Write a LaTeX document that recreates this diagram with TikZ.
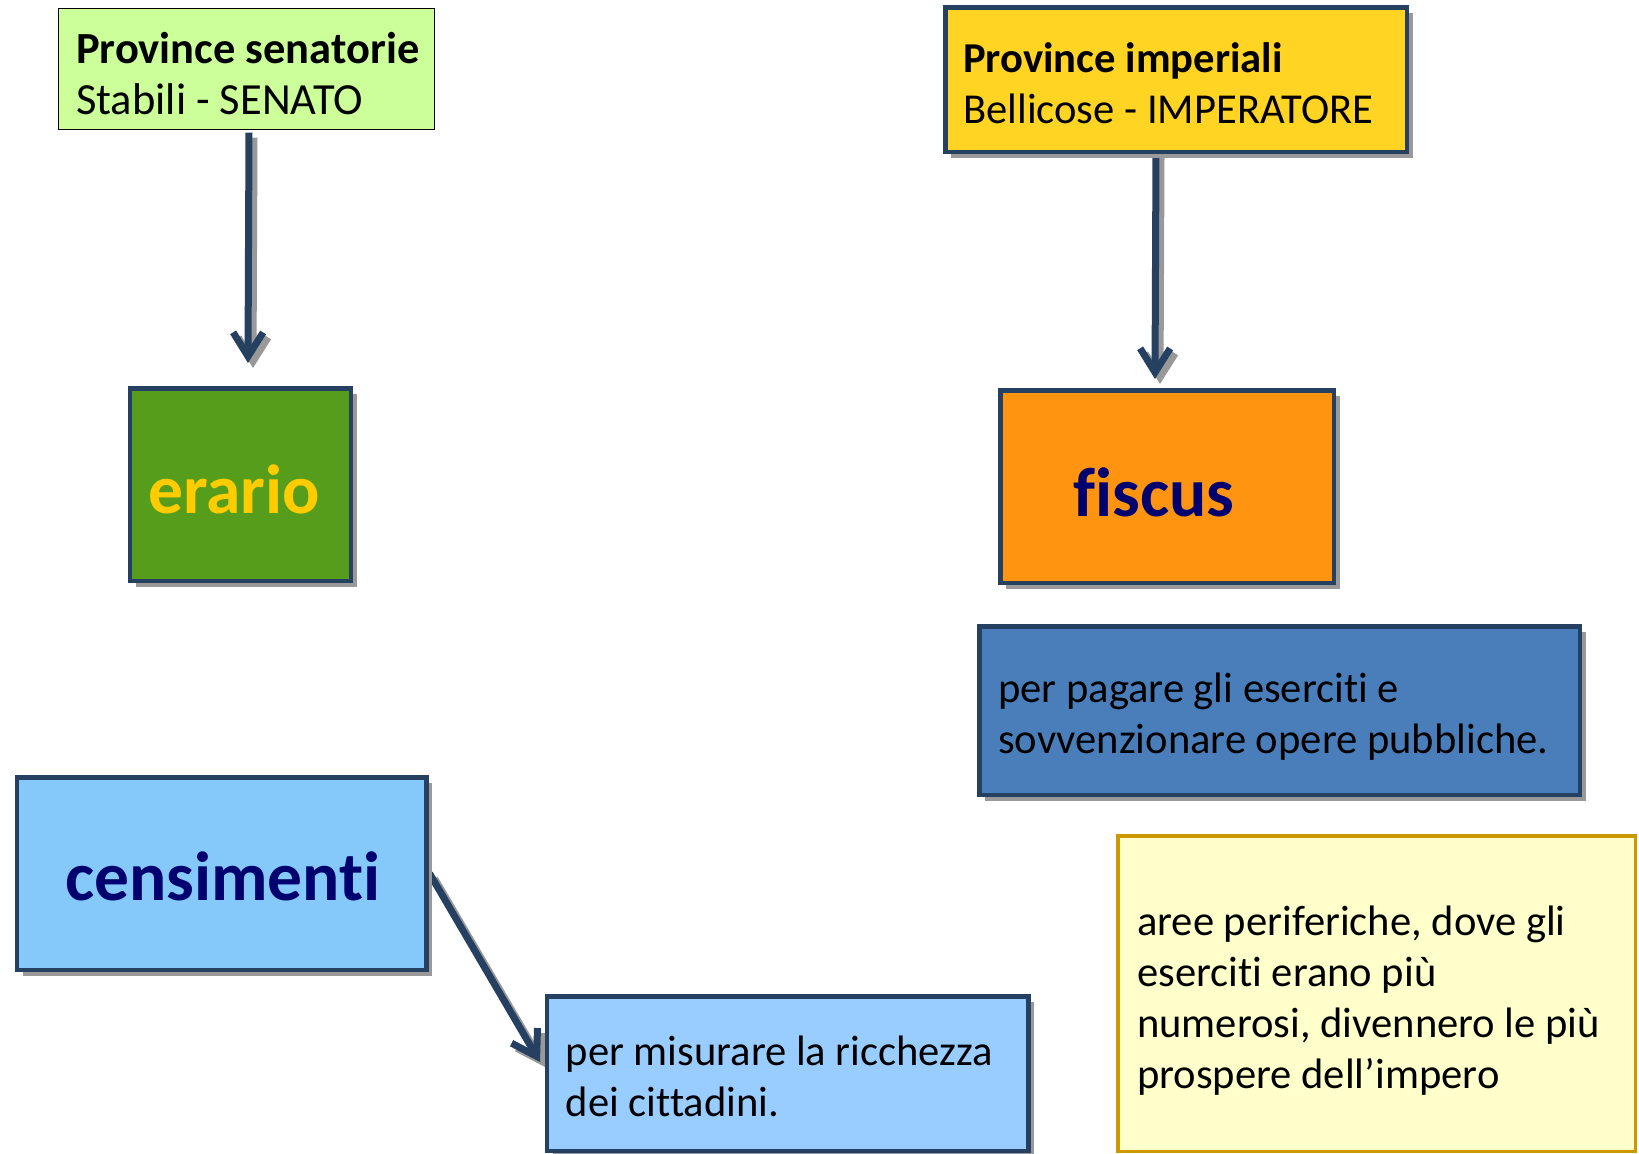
\documentclass[tikz,border=0pt]{standalone}
\usepackage{fontspec}
\setmainfont{Carlito}[Ligatures={NoCommon,NoContextual}]
\usetikzlibrary{arrows.meta,shadows}
\definecolor{bordc}{RGB}{38,64,98}
\definecolor{lgreen}{RGB}{204,255,153}
\definecolor{goldf}{RGB}{255,212,35}
\definecolor{ergreen}{RGB}{87,157,28}
\definecolor{ertext}{RGB}{255,204,0}
\definecolor{orangef}{RGB}{255,148,17}
\definecolor{navyt}{RGB}{0,0,110}
\definecolor{ppblue}{RGB}{74,126,187}
\definecolor{cefill}{RGB}{133,201,250}
\definecolor{pmfill}{RGB}{153,204,255}
\definecolor{arfill}{RGB}{255,255,204}
\definecolor{arbord}{RGB}{204,153,0}
\pgfdeclarelayer{bg}
\pgfsetlayers{bg,main}
\begin{document}
\begin{tikzpicture}[x=1pt,y=-1pt,
  box/.style={rectangle, draw=bordc, line width=4.5pt, inner sep=0pt,
    drop shadow={shadow xshift=6pt, shadow yshift=-6pt, fill=black!40, opacity=1}},
  bodytxt/.style={font=\fontsize{42.6}{51}\selectfont, align=left, inner sep=0pt, anchor=base west},
  bigtxt/.style={font=\fontsize{69.5}{80}\selectfont\bfseries, inner sep=0pt, anchor=base},
  conn/.style={draw=bordc, line width=7pt,
    -{Bar[width=0pt, line width=0.01pt, sep=0pt] Straight Barb[length=24pt, width=30pt, sep=0pt]}},
  connshadow/.style={conn, draw=black!40, transform canvas={xshift=5pt, yshift=-5pt}}
]
\useasboundingbox (0,0) rectangle (1639,1154);

% boxes
\node[rectangle, draw=black, line width=1pt, fill=lgreen, inner sep=0pt,
      minimum width=376.5pt, minimum height=120.2pt] (ps) at (246.25,69) {};
\node[box, fill=goldf, minimum width=461.5pt, minimum height=144.5pt] (pi) at (1176,79.5) {};
\node[box, fill=ergreen, minimum width=221pt, minimum height=192.5pt] (er) at (240.25,484.5) {};
\node[box, fill=orangef, minimum width=333.5pt, minimum height=192.5pt] (fi) at (1167,486.5) {};
\node[box, fill=ppblue, minimum width=600.5pt, minimum height=168.5pt] (pp) at (1279.5,710.5) {};
\node[box, fill=cefill, minimum width=409.5pt, minimum height=192.5pt] (ce) at (221.6,873.5) {};
\node[box, fill=pmfill, minimum width=481.6pt, minimum height=154.5pt] (pm) at (787.65,1073.5) {};
\node[rectangle, draw=arbord, line width=3.5pt, fill=arfill, inner sep=0pt,
      minimum width=517.5pt, minimum height=315.5pt] (ar) at (1376.5,993.5) {};

% texts (anchored at the baseline of the last line)
\node[bodytxt, font=\fontsize{44.5}{51}\selectfont] (ps-t) at (76,114) {\textbf{Province senatorie}\\Stabili - SENATO};
\node[bodytxt] (pi-t) at (963,123) {\textbf{Province imperiali}\\Bellicose - IMPERATORE};
\node[bigtxt, text=ertext] (er-t) at (234,513) {erario};
\node[bigtxt, text=navyt] (fi-t) at (1154,516) {fiscus};
\node[bodytxt] (pp-t) at (998,753) {per pagare gli eserciti e\\sovvenzionare opere pubbliche.};
\node[bigtxt, text=navyt] (ce-t) at (223,900) {censimenti};
\node[bodytxt] (pm-t) at (565.5,1116) {per misurare la ricchezza\\dei cittadini.};
\node[bodytxt] (ar-t) at (1137,1088) {aree periferiche, dove gli\\eserciti erano più\\numerosi, divennero le più\\prospere dell’impero};

% connectors
\begin{pgfonlayer}{bg}
\draw[connshadow] ([xshift=2.75pt,yshift=-3pt]ps.south) -- ([xshift=7.75pt,yshift=23pt]er.north);
\draw[conn] ([xshift=2.75pt,yshift=-3pt]ps.south) -- ([xshift=7.75pt,yshift=23pt]er.north);
\draw[connshadow] ([xshift=-20pt,yshift=2pt]pi.south) -- ([xshift=-12pt,yshift=9pt]fi.north);
\draw[conn] ([xshift=-20pt,yshift=2pt]pi.south) -- ([xshift=-12pt,yshift=9pt]fi.north);
\draw[connshadow] ([xshift=1pt]ce.east) -- ([xshift=-4.6pt,yshift=11.5pt]pm.west);
\draw[conn] ([xshift=1pt]ce.east) -- ([xshift=-4.6pt,yshift=11.5pt]pm.west);
\end{pgfonlayer}
\end{tikzpicture}
\end{document}
